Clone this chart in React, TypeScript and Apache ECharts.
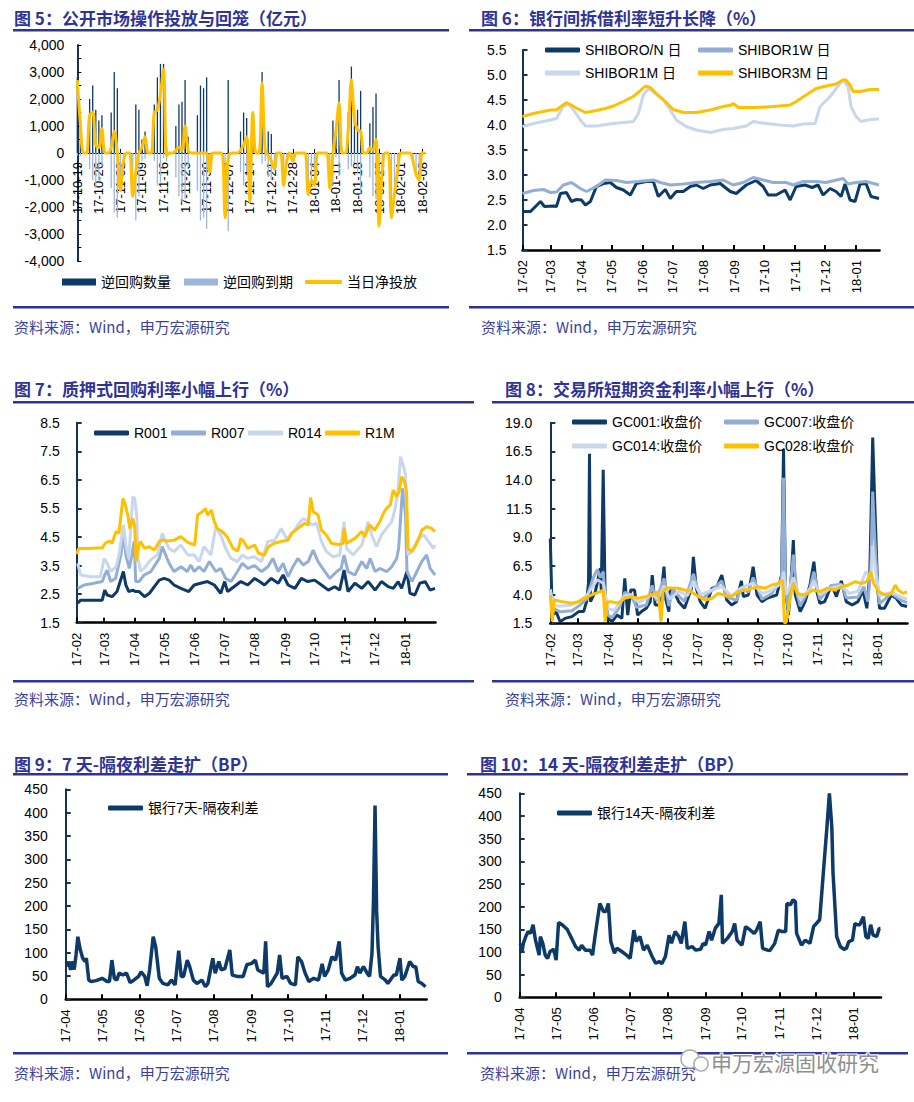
import React, { useEffect, useRef } from 'react';
import * as echarts from 'echarts';

const FONT = "'Liberation Sans', Arial, 'Noto Sans CJK SC', sans-serif";
const CJK = "'Noto Sans CJK SC', sans-serif";
const NAVY = '#0E3A68';
const MID = '#93AED4';
const LIGHT = '#C8D7EC';
const GOLD = '#FFC000';
const INK = '#2F3395';

// ---------- Figure 5: open market operations (daily, from 2017-10-19) ----------
const omoVolume = [
  2800, 1200, 0, 0, 2000, 2500, 1600, 1200, 1400, 0,
  0, 1500, 3000, 2400, 0, 0, 0, 0, 0, 1800,
  1600, 500, 800, 0, 0, 1800, 2800, 3300, 3300, 200,
  0, 0, 1000, 1800, 1900, 2700, 600, 0, 0, 1400,
  2500, 2400, 2800, 0, 0, 0, 0, 0, 0, 2700,
  0, 0, 0, 800, 1500, 1300, 0, 1500, 0, 0,
  3000, 400, 800, 700, 0, 0, 0, 0, 0, 0,
  0, 0, 0, 0, 0, 0, 0, 0, 0, 0,
  0, 0, 0, 1200, 1000, 2700, 0, 0, 1500, 3200,
  1600, 1600, 2300, 0, 0, 1100, 1700, 2200, 0, 0,
  0, 0, 0, 0, 0, 0, 0, 0, 0, 0,
  0, 0, 0, 0,
];
const omoMaturity = [
  -100, -100, 0, 0, -600, -1000, -1300, -1000, -500, 0,
  0, -1300, -2200, -2400, -1400, -300, 0, 0, -1600, -2500,
  -1600, -300, -200, 0, 0, -300, -1200, -1100, -200, -300,
  0, 0, -900, -1600, -1800, -1700, -500, 0, 0, -1400,
  -2500, -2400, -2800, -700, 0, 0, 0, 0, -2400, -2900,
  0, 0, 0, -700, -1200, -700, -1800, 0, 0, 0,
  -400, -300, -900, -1000, -600, 0, 0, -1200, -300, 0,
  -300, 0, 0, 0, 0, -1550, -1000, -1200, 0, 0,
  0, 0, -1300, -1200, -150, -850, 0, 0, -600, -500,
  -370, -740, -1500, 0, 0, -900, -1600, -1700, -2700, -700,
  0, 0, -2400, -1500, -700, 0, 0, 0, 0, -300,
  -800, -1000, 0, 0,
];
const omoNet = [
  2700, 1100, 0, 0, 1400, 1500, 300, 200, 900, 0,
  0, 200, 800, 0, -1400, -300, 0, 0, -1600, -700,
  0, 200, 600, 0, 0, 1500, 1600, 2200, 3100, -100,
  0, 0, 100, 200, 100, 1000, 100, 0, 0, 0,
  0, 0, 0, -700, 0, 0, 0, 0, -2400, -200,
  0, 0, 0, 100, 300, 600, -1800, 1500, 0, 0,
  2600, 100, -100, -300, -600, 0, 0, -1200, -300, 0,
  -300, 0, 0, 0, 0, -1550, -1000, -1200, 0, 0,
  0, 0, -1300, 0, 850, 1850, 0, 0, 900, 2700,
  1230, 860, 800, 0, 0, 200, 100, 500, -2700, -700,
  0, 0, -2400, -1500, -700, 0, 0, 0, 0, -300,
  -800, -1000, 0, 0,
];
const pad2 = (n: number) => (n < 10 ? '0' + n : '' + n);
const omoDates = omoNet.map((_, i) => {
  const d = new Date(2017, 9, 19 + i);
  return `${String(d.getFullYear()).slice(2)}-${pad2(d.getMonth() + 1)}-${pad2(d.getDate())}`;
});

// ---------- month ticks (day offsets) ----------
const febMonthDays = [0, 28, 59, 89, 120, 150, 181, 212, 242, 273, 303, 334];
const febMonthLabels = ['17-02', '17-03', '17-04', '17-05', '17-06', '17-07', '17-08', '17-09', '17-10', '17-11', '17-12', '18-01'];
const aprMonthDays = [0, 30, 61, 91, 122, 153, 183, 214, 244, 275];
const aprMonthLabels = ['17-04', '17-05', '17-06', '17-07', '17-08', '17-09', '17-10', '17-11', '17-12', '18-01'];

// ---------- Figure 6: SHIBOR (day offset from 2017-02-01, %) ----------
const shiborON = [[0,2.27],[8,2.27],[18,2.47],[22,2.37],[31,2.38],[34,2.37],[38,2.63],[44,2.65],[49,2.47],[54,2.51],[59,2.50],[63,2.40],[68,2.47],[74,2.77],[81,2.83],[88,2.85],[94,2.75],[101,2.70],[108,2.60],[114,2.83],[124,2.87],[131,2.87],[136,2.57],[143,2.71],[148,2.53],[154,2.67],[161,2.67],[168,2.77],[174,2.80],[181,2.73],[188,2.80],[198,2.83],[208,2.67],[214,2.63],[224,2.80],[234,2.89],[241,2.77],[246,2.60],[254,2.60],[263,2.70],[268,2.50],[274,2.77],[283,2.80],[290,2.75],[296,2.80],[301,2.60],[308,2.73],[314,2.67],[319,2.57],[323,2.82],[328,2.50],[333,2.47],[338,2.82],[344,2.83],[349,2.57],[357,2.53]];
const shibor1W = [[0,2.63],[11,2.69],[21,2.71],[28,2.65],[34,2.66],[41,2.80],[49,2.85],[58,2.73],[64,2.67],[74,2.77],[83,2.90],[94,2.89],[104,2.85],[116,2.87],[131,2.90],[138,2.85],[148,2.80],[161,2.82],[174,2.85],[188,2.87],[201,2.90],[211,2.80],[221,2.85],[231,2.95],[241,2.90],[251,2.85],[264,2.85],[271,2.80],[281,2.87],[294,2.87],[304,2.85],[321,2.93],[326,2.82],[334,2.85],[344,2.87],[357,2.80]];
const shibor1M = [[0,3.97],[11,4.03],[28,4.10],[34,4.13],[41,4.37],[46,4.42],[51,4.30],[58,4.10],[63,3.98],[74,3.98],[91,4.03],[111,4.07],[116,4.23],[121,4.60],[126,4.73],[133,4.63],[141,4.50],[148,4.30],[154,4.10],[164,3.97],[174,3.90],[188,3.85],[201,3.91],[211,3.93],[224,3.98],[231,4.07],[244,4.03],[258,4.00],[271,3.98],[281,4.02],[293,4.03],[298,4.37],[308,4.57],[316,4.78],[321,4.90],[326,4.77],[329,4.37],[334,4.17],[339,4.07],[348,4.11],[357,4.12]];
const shibor3M = [[0,4.17],[11,4.23],[28,4.30],[34,4.30],[44,4.45],[53,4.35],[63,4.25],[74,4.29],[83,4.33],[91,4.38],[101,4.47],[111,4.57],[117,4.67],[123,4.78],[128,4.75],[134,4.63],[143,4.47],[151,4.31],[161,4.25],[174,4.25],[188,4.30],[201,4.37],[209,4.40],[211,4.43],[216,4.35],[234,4.35],[251,4.37],[268,4.40],[274,4.47],[284,4.60],[294,4.73],[304,4.78],[314,4.82],[321,4.90],[324,4.90],[328,4.80],[331,4.67],[338,4.67],[348,4.71],[357,4.71]];

// ---------- Figure 7: pledged repo (day offset from 2017-02-01, %) ----------
const r001 = [[1,2.18],[4,2.29],[26,2.29],[28.5,2.64],[31,2.47],[36,2.41],[41,2.59],[47.5,3.29],[50,2.82],[53,2.59],[57,2.64],[60,2.59],[63.5,2.59],[69,2.41],[74,2.53],[79,2.76],[84,2.99],[89,3.05],[94,2.99],[99,2.82],[106,2.70],[114,2.59],[119.5,2.82],[126,2.88],[133,2.94],[140,2.82],[146.5,2.53],[150.5,2.94],[153.5,2.59],[160,2.76],[167,2.94],[174,2.82],[181,3.05],[186,2.94],[191,2.82],[198,3.05],[205,2.88],[210,3.17],[215,2.82],[222,2.70],[228.5,3.05],[235,2.94],[242,2.99],[249,2.82],[256,2.64],[262.5,2.76],[267.5,2.64],[272,3.34],[276,2.59],[283,2.88],[290,2.70],[296.5,2.94],[303.5,2.64],[310,2.94],[317,2.76],[322,2.70],[327,2.94],[330.5,2.70],[336,3.29],[339,2.53],[344,2.47],[349,2.88],[354.5,2.94],[359.5,2.64],[364.5,2.70]];
const r007 = [[1,2.70],[7.5,2.82],[17.5,2.88],[26,2.94],[28.5,3.17],[31,3.34],[34.5,2.94],[39.5,3.05],[45,3.87],[48,4.69],[50,3.87],[53.5,3.40],[56.5,3.93],[58.5,4.34],[60,2.94],[63.5,2.94],[68.5,3.17],[75.5,3.29],[84,3.75],[87,4.16],[90.5,3.87],[94,3.58],[99,3.29],[106,3.46],[112.5,3.29],[116,3.52],[119.5,3.29],[124.5,3.46],[129.5,3.29],[135,3.64],[141.5,3.29],[146.5,3.40],[151.5,3.05],[157,2.94],[163.5,3.29],[168.5,3.58],[174,3.40],[181,3.50],[188,3.29],[194.5,3.46],[199.5,3.75],[205,3.29],[210,3.58],[215,3.11],[220,3.46],[225,3.75],[230.5,3.52],[235.5,3.64],[240.5,4.04],[245.5,3.64],[252.5,3.29],[257.5,3.05],[264.5,3.29],[269,3.40],[272,3.87],[276,3.29],[283,3.17],[290,3.64],[295,3.40],[298.5,3.75],[303.5,3.29],[308.5,3.40],[315.5,3.29],[320.5,3.46],[325.5,3.75],[327.5,4.10],[331.5,6.20],[334.5,5.27],[336,3.29],[341,2.94],[346,3.29],[351,3.64],[356,3.87],[359.5,3.40],[364.5,3.17]];
const r014 = [[1,3.58],[4,3.17],[14,3.11],[24,3.11],[28,3.75],[31,3.58],[35,3.29],[40,3.46],[43,3.87],[47.5,4.92],[50,4.22],[53,3.75],[57,5.91],[59,5.85],[61,5.27],[62.5,3.75],[65,3.29],[70,3.46],[75,3.69],[82,3.87],[87,4.63],[90.5,4.34],[94,4.10],[99,3.99],[106,4.22],[113,3.87],[119.5,3.87],[124.5,3.64],[129.5,4.16],[136.5,3.87],[141.5,4.86],[146.5,4.57],[151.5,4.10],[157,3.75],[163.5,3.64],[168.5,3.87],[174,3.75],[180.5,3.81],[188,3.64],[194.5,4.34],[201.5,4.39],[208,4.80],[213.5,4.45],[218.5,4.57],[225,4.92],[230.5,5.15],[235.5,5.04],[239,4.92],[244,4.98],[249,4.34],[254,3.99],[261,3.81],[267.5,3.87],[272,5.04],[274.5,4.10],[281,3.87],[290,4.22],[296.5,5.04],[300,4.57],[305,4.16],[310,4.57],[315,4.80],[320.5,5.04],[324,5.50],[327,6.20],[329.5,7.31],[332.5,6.96],[334.5,6.67],[337,3.87],[341,3.99],[347.5,4.45],[353,4.57],[358,4.34],[363,4.10],[364.5,4.22]];
const r1m = [[0,3.90],[2,4.10],[11,4.10],[26,4.12],[29,4.28],[33,4.36],[36,4.28],[40,4.69],[43,4.63],[47,5.85],[49,5.68],[52,5.27],[54,4.80],[57,5.15],[59,4.86],[60.5,3.64],[63,4.16],[65,4.34],[69,4.10],[74,4.16],[79,4.04],[84,4.34],[87,4.39],[92,4.36],[99,4.39],[106,4.51],[113,4.31],[120,4.22],[123,5.27],[128,5.39],[131,5.50],[133,5.27],[137,5.44],[140,5.04],[143,4.80],[148,4.69],[153,4.51],[159,4.10],[164,4.01],[167,4.45],[170,4.34],[174,4.10],[181,4.22],[185,3.93],[191,3.87],[195,4.16],[201,4.28],[208,4.34],[215,4.39],[218.5,4.63],[225,4.80],[232,4.98],[235.5,4.92],[238,5.88],[240.5,5.39],[245.5,5.27],[249,4.74],[254,4.57],[259,4.28],[266,4.24],[271,4.28],[272,4.80],[274.5,4.28],[283,4.45],[290,4.69],[293,4.51],[298,4.92],[303,4.74],[308.5,5.04],[312,5.33],[315,5.50],[319,5.62],[322,6.14],[325.5,5.91],[328,6.09],[330.5,6.61],[333.5,6.43],[335.5,6.09],[337,4.10],[341,3.99],[344,4.16],[347.5,4.39],[351,4.74],[356,4.86],[361,4.80],[364.5,4.69]];

// ---------- Figure 8: exchange repo GC (day offset from 2017-02-01, %) ----------
const gc001 = [[0,8.9],[2,2.2],[6,2.5],[10,1.64],[15,1.93],[22,2.08],[29,2.52],[34,2.52],[37,3.39],[39,5.0],[40,16.3],[41,3.39],[46,4.26],[51,6.29],[52,4.4],[54,14.9],[56,3.39],[59,1.93],[63,1.64],[68,2.22],[73,1.93],[76,5.41],[79,2.22],[82,4.4],[86,4.4],[89,2.22],[93,2.52],[98,2.81],[102,3.39],[104,5.7],[107,3.1],[112,3.1],[116,6.44],[118,3.54],[121,2.52],[122,4.26],[125,4.55],[131,3.39],[137,2.81],[144,4.55],[146,7.3],[149,4.55],[153,3.39],[158,2.81],[165,4.55],[170,4.69],[175,5.7],[180,3.54],[185,3.1],[190,3.39],[195,5.2],[197,3.83],[202,3.97],[207,6.44],[211,3.97],[216,3.39],[221,3.68],[226,3.83],[231,3.97],[236,5.7],[238,16.7],[240,4.55],[243,2.22],[246,5.7],[248,8.76],[250,3.97],[255,2.52],[260,3.39],[265,4.84],[269,6.87],[272,4.26],[275,3.25],[280,3.39],[287,4.84],[292,3.83],[297,5.2],[302,3.39],[308,3.1],[314,3.39],[319,4.4],[323,2.81],[326,5.7],[329,17.7],[331,12.3],[334,4.55],[336,2.81],[341,2.81],[348,3.97],[353,3.68],[358,3.1],[364,2.96]];
const gc007 = [[0,4.5],[3,2.8],[10,2.5],[22,2.6],[29,3.0],[37,3.6],[40,4.5],[44,5.5],[48,6.2],[51,5.5],[54,6.0],[56,3.5],[59,2.2],[63,2.0],[70,2.8],[76,4.2],[82,4.0],[88,2.9],[98,3.1],[104,4.8],[108,3.5],[116,5.4],[121,3.0],[125,4.4],[137,3.4],[146,5.8],[150,4.6],[155,3.6],[165,4.4],[175,5.2],[180,3.8],[190,3.5],[195,4.6],[202,4.2],[207,5.5],[216,3.6],[226,4.1],[236,5.4],[238,14.2],[240,4.5],[243,2.6],[248,7.5],[252,4.0],[255,3.0],[265,4.6],[269,6.0],[275,3.6],[287,4.8],[297,4.9],[302,3.7],[314,3.8],[320,4.7],[324,3.4],[327,6.0],[329,13.0],[331,9.0],[334,4.7],[336,3.2],[348,4.1],[358,3.5],[364,3.3]];
const gc014 = [[0,4.4],[3,3.0],[12,3.0],[22,3.1],[29,3.4],[37,3.9],[44,4.8],[48,5.3],[54,5.0],[56,4.0],[59,2.8],[65,2.6],[76,3.9],[82,4.0],[90,3.3],[104,4.0],[110,3.6],[116,4.8],[122,3.6],[131,4.3],[140,3.9],[146,5.2],[153,4.0],[165,4.4],[175,4.7],[185,3.9],[195,4.6],[207,5.0],[216,4.1],[226,4.4],[236,5.0],[238,6.0],[241,4.0],[248,5.5],[255,3.6],[265,4.5],[269,5.2],[275,4.0],[287,4.6],[297,4.8],[305,4.1],[314,4.3],[322,6.0],[327,5.4],[329,8.3],[332,6.0],[336,3.9],[348,4.2],[358,3.8],[364,3.6]];
const gc028 = [[0,3.97],[2,1.64],[4,3.54],[12,3.39],[22,3.25],[29,3.39],[35,3.68],[42,3.97],[51,4.26],[54,4.4],[56,1.64],[58,3.39],[62,3.39],[69,3.25],[76,3.68],[83,3.83],[90,3.68],[97,3.83],[103,3.97],[110,4.26],[113,1.64],[115,4.26],[119,4.6],[124,4.55],[131,4.55],[137,4.4],[144,4.26],[151,3.83],[158,3.54],[165,3.68],[171,4.11],[178,3.97],[185,3.83],[192,4.26],[199,4.4],[206,4.55],[212,4.69],[219,4.55],[226,4.84],[233,4.98],[237,5.27],[239,1.5],[241,1.64],[245,3.83],[248,4.98],[252,4.11],[257,3.97],[263,4.11],[268,4.4],[275,4.26],[282,4.55],[290,4.4],[297,4.69],[304,4.84],[311,5.13],[318,4.98],[323,5.13],[327,6.0],[330,4.98],[335,4.26],[342,3.97],[348,4.11],[352,4.84],[355,4.4],[360,4.11],[364,4.26]];

// ---------- Figure 9 / 10: spreads (day offset from 2017-04-01, BP) ----------
const spread7d = [[1,70],[2.5,81],[4,63],[5,81],[7,64],[8.5,95],[10,134],[12,106],[14,88],[16,81],[17,88],[19,41],[21,38],[25,40],[30,45],[34,38],[36,38],[38,84],[40,45],[42,41],[44,56],[47,52],[50,56],[53,36],[56,41],[60,49],[62,59],[65,49],[67,29],[69,63],[72,134],[74,113],[77,45],[80,34],[84,31],[87,41],[90,31],[93,104],[95,49],[97,49],[100,84],[102,70],[105,41],[108,34],[112,41],[115,27],[117,34],[121,88],[123,56],[126,81],[128,63],[131,66],[135,106],[137,52],[141,49],[146,49],[149,74],[153,77],[156,84],[158,63],[163,56],[164.5,124],[166,27],[169,34],[174,56],[176,95],[178,45],[182,49],[185,34],[189,31],[191,91],[194,81],[197,56],[200,38],[204,45],[208,41],[211,76],[213,49],[216,63],[219,91],[222,84],[225,124],[227,56],[230,41],[234,45],[238,52],[240,70],[242,56],[245,70],[248,56],[250,49],[252,99],[253.2,210],[254.5,415],[255.8,190],[257,113],[259,49],[263,41],[265,34],[270,52],[272,52],[275,88],[276.5,41],[279,49],[283,81],[286,70],[288,70],[290,38],[293,34],[296,27]];
const spread14d = [[0.5,119],[2,101],[3,119],[5,134],[7,145],[9,141],[11,160],[13,126],[16,93],[17,134],[19,119],[21,93],[23,86],[25,101],[28,106],[30,82],[32,165],[35,160],[39,150],[42,134],[46,112],[49,104],[51,115],[54,104],[58,104],[60,93],[62,134],[66,207],[69,189],[71,189],[73,207],[75,123],[78,97],[80,108],[84,101],[88,93],[91,86],[94,148],[96,123],[99,134],[102,104],[105,115],[109,90],[112,75],[115,79],[117,74],[120,90],[123,137],[125,119],[128,145],[131,134],[133,119],[136,167],[138,108],[142,112],[145,104],[149,106],[151,119],[153,115],[156,145],[158,126],[161,152],[164,163],[166,226],[167,119],[171,130],[175,145],[177,163],[179,126],[183,115],[186,156],[190,148],[193,141],[195,148],[198,167],[200,108],[204,104],[206,103],[210,119],[213,148],[216,145],[219,145],[220,207],[223,204],[225,215],[227,211],[228,141],[232,115],[235,126],[239,119],[242,156],[245,165],[247,171],[250,274],[253,376],[255,450],[257,376],[258,274],[261,134],[264,112],[267,106],[269,108],[271,123],[274,126],[276,163],[278,160],[280,160],[283,178],[285,134],[287,130],[289,160],[291,137],[294,134],[296,152],[297,152]];

const titles = [
  '图 5：公开市场操作投放与回笼（亿元）',
  '图 6：银行间拆借利率短升长降（%）',
  '图 7：质押式回购利率小幅上行（%）',
  '图 8：交易所短期资金利率小幅上行（%）',
  '图 9：7 天-隔夜利差走扩（BP）',
  '图 10：14 天-隔夜利差走扩（BP）',
];
const sourceText = '资料来源：Wind，申万宏源研究';

const grids = [
  { left: 77.3, top: 45, width: 348, height: 216 },
  { left: 522.5, top: 50, width: 357, height: 200 },
  { left: 76.7, top: 422.7, width: 358.8, height: 200 },
  { left: 550.3, top: 422.7, width: 357.2, height: 200.6 },
  { left: 65.7, top: 789.3, width: 361, height: 210 },
  { left: 519.7, top: 793.3, width: 361.3, height: 204 },
];

const dayAxis = (gi: number, max: number, days: number[], labels: string[]) => ({
  type: 'value', gridIndex: gi, min: 0, max,
  axisLine: { show: true, onZero: false, lineStyle: { color: '#000', width: 2.5 } },
  axisTick: { show: true, inside: true, length: 5, customValues: days, lineStyle: { color: '#000', width: 2 } },
  axisLabel: {
    customValues: days, rotate: 90, margin: 10, fontSize: 13, color: '#000', fontFamily: FONT,
    formatter: (v: number) => { const k = days.indexOf(v); return k >= 0 ? labels[k] : ''; },
  },
  splitLine: { show: false },
});

const valAxis = (gi: number, min: number, max: number, extra: any, margin: number) => ({
  type: 'value', gridIndex: gi, min, max,
  axisLine: { show: true, onZero: false, lineStyle: { color: '#13335C', width: 2 } },
  axisTick: { show: true, inside: true, length: 5, lineStyle: { color: '#13335C', width: 2 }, ...(extra.tick || {}) },
  axisLabel: { fontSize: 14, color: '#000', fontFamily: FONT, margin, ...(extra.label || {}) },
  splitLine: { show: false },
  ...(extra.axis || {}),
});

const lineS = (name: string, data: any[], color: string, idx: number, width = 3) => ({
  type: 'line', name, xAxisIndex: idx, yAxisIndex: idx, data,
  symbol: 'none', showSymbol: false, lineStyle: { color, width }, itemStyle: { color }, clip: true,
});

const leg = (name: string, left: number, cy: number, icon = 'roundRect', h = 5, w = 35) => ({
  data: [name], left, top: cy - 7, padding: 0, icon, itemWidth: w, itemHeight: h,
  selectedMode: false, textStyle: { fontSize: 14, color: '#000', fontFamily: FONT },
});

const fix1 = (v: number) => v.toFixed(1);

export default function App() {
  const ref = useRef<HTMLDivElement>(null);
  useEffect(() => {
    if (!ref.current) return;
    const chart = echarts.init(ref.current, undefined, { renderer: 'svg' });

    const els: any[] = [];
    const titlePos = [[14, 17], [481, 17], [14, 388], [505, 388], [14, 763], [480, 763]];
    const srcPos = [[14, 326], [481, 326], [14, 698], [505, 698], [14, 1072], [480, 1072]];
    const rules = [
      [13, 29, 436], [13, 306, 436], [469, 29, 445], [469, 306, 445],
      [13, 401, 461], [13, 680, 461], [492, 401, 422], [492, 680, 422],
      [13, 773, 435], [13, 1052, 435], [467, 773, 441], [467, 1052, 441],
    ];
    rules.forEach(([x, y, w]) => els.push({ type: 'rect', shape: { x, y, width: w, height: 2.5 }, style: { fill: INK } }));
    titles.forEach((t, i) => els.push({
      type: 'text', x: titlePos[i][0], y: titlePos[i][1],
      style: { text: t, fill: INK, font: `bold 17px ${CJK}`, verticalAlign: 'middle', align: 'left' },
    }));
    srcPos.forEach(([x, y]) => els.push({
      type: 'text', x, y,
      style: { text: sourceText, fill: '#3B3F9C', font: `15px ${CJK}`, verticalAlign: 'middle', align: 'left' },
    }));
    // watermark
    els.push({ type: 'circle', shape: { cx: 690, cy: 1059, r: 9 }, style: { fill: '#fff', stroke: '#aaa', lineWidth: 1.5 }, z: 100 });
    els.push({ type: 'circle', shape: { cx: 701, cy: 1064, r: 7 }, style: { fill: '#fff', stroke: '#aaa', lineWidth: 1.5 }, z: 101 });
    els.push({
      type: 'text', x: 711, y: 1062, z: 102,
      style: { text: '申万宏源固收研究', fill: '#8f8f8f', stroke: '#fff', lineWidth: 2, font: `21px ${CJK}`, verticalAlign: 'middle', align: 'left' },
    });

    const option: any = {
      animation: false,
      backgroundColor: '#fff',
      textStyle: { fontFamily: FONT },
      grid: grids.map((g) => ({ ...g, containLabel: false, outerBoundsMode: 'none' })),
      xAxis: [
        {
          type: 'category', gridIndex: 0, data: omoDates, boundaryGap: false,
          position: 'bottom', offset: -108,
          axisLine: { show: true, onZero: false, lineStyle: { color: '#000', width: 1 } },
          axisTick: { show: true, inside: true, interval: 6, length: 4, lineStyle: { color: '#000' } },
          axisLabel: { interval: 6, rotate: 90, margin: 9, fontSize: 13, color: '#000', fontFamily: FONT },
          splitLine: { show: false },
        },
        dayAxis(1, 357.5, febMonthDays, febMonthLabels),
        dayAxis(2, 365, febMonthDays, febMonthLabels),
        dayAxis(3, 364.5, febMonthDays, febMonthLabels),
        dayAxis(4, 297, aprMonthDays, aprMonthLabels),
        dayAxis(5, 297.5, aprMonthDays, aprMonthLabels),
      ],
      yAxis: [
        valAxis(0, -4000, 4000, {
          axis: { interval: 1000, minorTick: { show: true, splitNumber: 2, length: 4, lineStyle: { color: '#000' } }, minorSplitLine: { show: false } },
          label: { formatter: (v: number) => v.toLocaleString('en-US') },
          tick: { length: 4, lineStyle: { color: '#000', width: 1 } },
        }, 13),
        valAxis(1, 1.5, 5.5, { axis: { interval: 0.5 }, label: { formatter: fix1 } }, 16),
        valAxis(2, 1.5, 8.5, {
          label: { customValues: [1.5, 2.5, 3.5, 4.5, 5.5, 6.5, 7.5, 8.5], formatter: fix1 },
          tick: { customValues: [1.5, 2.5, 3.5, 4.5, 5.5, 6.5, 7.5, 8.5] },
        }, 17),
        valAxis(3, 1.5, 19, {
          label: { customValues: [1.5, 4, 6.5, 9, 11.5, 14, 16.5, 19], formatter: fix1 },
          tick: { customValues: [1.5, 4, 6.5, 9, 11.5, 14, 16.5, 19] },
        }, 18),
        valAxis(4, 0, 450, { axis: { interval: 50 } }, 18),
        valAxis(5, 0, 450, { axis: { interval: 50 } }, 18),
      ],
      legend: [
        leg('逆回购数量', 62, 282, 'rect', 7, 34),
        leg('逆回购到期', 184, 282, 'rect', 7, 34),
        leg('当日净投放', 305, 282, 'roundRect', 4, 37),
        leg('SHIBORO/N 日', 545, 50),
        leg('SHIBOR1W 日', 698, 50),
        leg('SHIBOR1M 日', 545, 73),
        leg('SHIBOR3M 日', 698, 73),
        leg('R001', 94, 433),
        leg('R007', 171, 433),
        leg('R014', 248, 433),
        leg('R1M', 325, 433),
        leg('GC001:收盘价', 572, 422),
        leg('GC007:收盘价', 724, 422),
        leg('GC014:收盘价', 572, 446),
        leg('GC028:收盘价', 724, 446),
        leg('银行7天-隔夜利差', 108, 808),
        leg('银行14天-隔夜利差', 557, 813),
      ],
      series: [
        { type: 'bar', name: '逆回购数量', xAxisIndex: 0, yAxisIndex: 0, data: omoVolume, barWidth: 1.3, barGap: '-100%', itemStyle: { color: NAVY } },
        { type: 'bar', name: '逆回购到期', xAxisIndex: 0, yAxisIndex: 0, data: omoMaturity, barWidth: 1.3, barGap: '-100%', itemStyle: { color: '#9DB6DA' } },
        { ...lineS('当日净投放', omoNet, GOLD, 0, 3), smooth: 0.35, z: 5 },
        lineS('SHIBORO/N 日', shiborON, NAVY, 1),
        lineS('SHIBOR1W 日', shibor1W, MID, 1),
        lineS('SHIBOR1M 日', shibor1M, LIGHT, 1),
        lineS('SHIBOR3M 日', shibor3M, GOLD, 1),
        lineS('R001', r001, NAVY, 2),
        lineS('R007', r007, MID, 2),
        lineS('R014', r014, LIGHT, 2),
        lineS('R1M', r1m, GOLD, 2),
        lineS('GC001:收盘价', gc001, NAVY, 3),
        lineS('GC007:收盘价', gc007, MID, 3),
        lineS('GC014:收盘价', gc014, LIGHT, 3),
        lineS('GC028:收盘价', gc028, GOLD, 3),
        lineS('银行7天-隔夜利差', spread7d, NAVY, 4, 3.5),
        lineS('银行14天-隔夜利差', spread14d, NAVY, 5, 3.5),
      ],
      graphic: { elements: els },
    };
    chart.setOption(option);
    return () => chart.dispose();
  }, []);
  return <div ref={ref} style={{ position: 'absolute', left: 0, top: 0, width: 914, height: 1102, background: '#fff' }} />;
}
